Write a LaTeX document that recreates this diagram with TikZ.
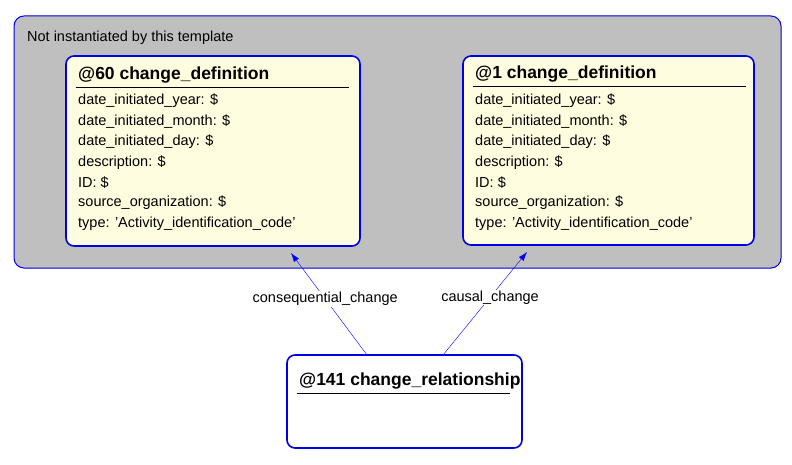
\documentclass[tikz,border=0pt]{standalone}
\usepackage{fontspec}
\setmainfont{Liberation Sans}
\usetikzlibrary{arrows.meta}
\begin{document}
\begin{tikzpicture}[x=1pt,y=-1pt,
  ent/.style={draw=blue!90!black,line width=1.6pt,fill=yellow!12,rounded corners=8pt},
  grp/.style={draw=blue!90!black,line width=1pt,fill=black!25,rounded corners=10pt},
  txt/.style={anchor=west,inner sep=0pt,font=\fontsize{14.5}{16}\selectfont},
  ttl/.style={anchor=west,inner sep=0pt,font=\fontsize{17.5}{19}\selectfont\bfseries},
  rel/.style={draw=blue,-{Latex[length=9pt,width=6pt]}},
  lab/.style={fill=white,inner sep=1pt,font=\fontsize{14.5}{16}\selectfont}]
\useasboundingbox (0,0) rectangle (792,465);
\fill[white] (0,0) rectangle (792,465);
\draw[grp] (14,16) rectangle (781,268);
\node[txt] (g) at (27,38) {Not instantiated by this template};
\draw[ent] (66,56) rectangle (360,246);
\draw[ent] (463,56) rectangle (754,245);
\draw[ent,fill=white] (287,355) rectangle (522,448);
\coordinate (lt) at (291,253);
\coordinate (rt) at (527,252);
\coordinate (ls) at (367,355);
\coordinate (rs) at (443,355);
\node[ttl] (t1) at (78,75) {@60 change\_definition};
\draw (76,87) -- (349,87);
\node[ttl] (t2) at (475,74) {@1 change\_definition};
\draw (473,86) -- (746,86);
\node[ttl] (t3) at (299,381) {@141 change\_relationship};
\draw (297,393) -- (510,393);
\foreach \x/\n in {78/a,475/b}{
  \foreach \t [count=\i] in {date\_initiated\_year: \$,date\_initiated\_month: \$,date\_initiated\_day: \$,description: \$,ID: \$,source\_organization: \$,type: 'Activity\_identification\_code'}
    \node[txt] (\n\i) at (\x,{101+(\i-1)*20.4}) {\t};
}
\draw[rel] (ls) -- node[lab,pos=0.55] (l1) {consequential\_change} (lt);
\draw[rel] (rs) -- node[lab,pos=0.56] (l2) {causal\_change} (rt);
\end{tikzpicture}
\end{document}
